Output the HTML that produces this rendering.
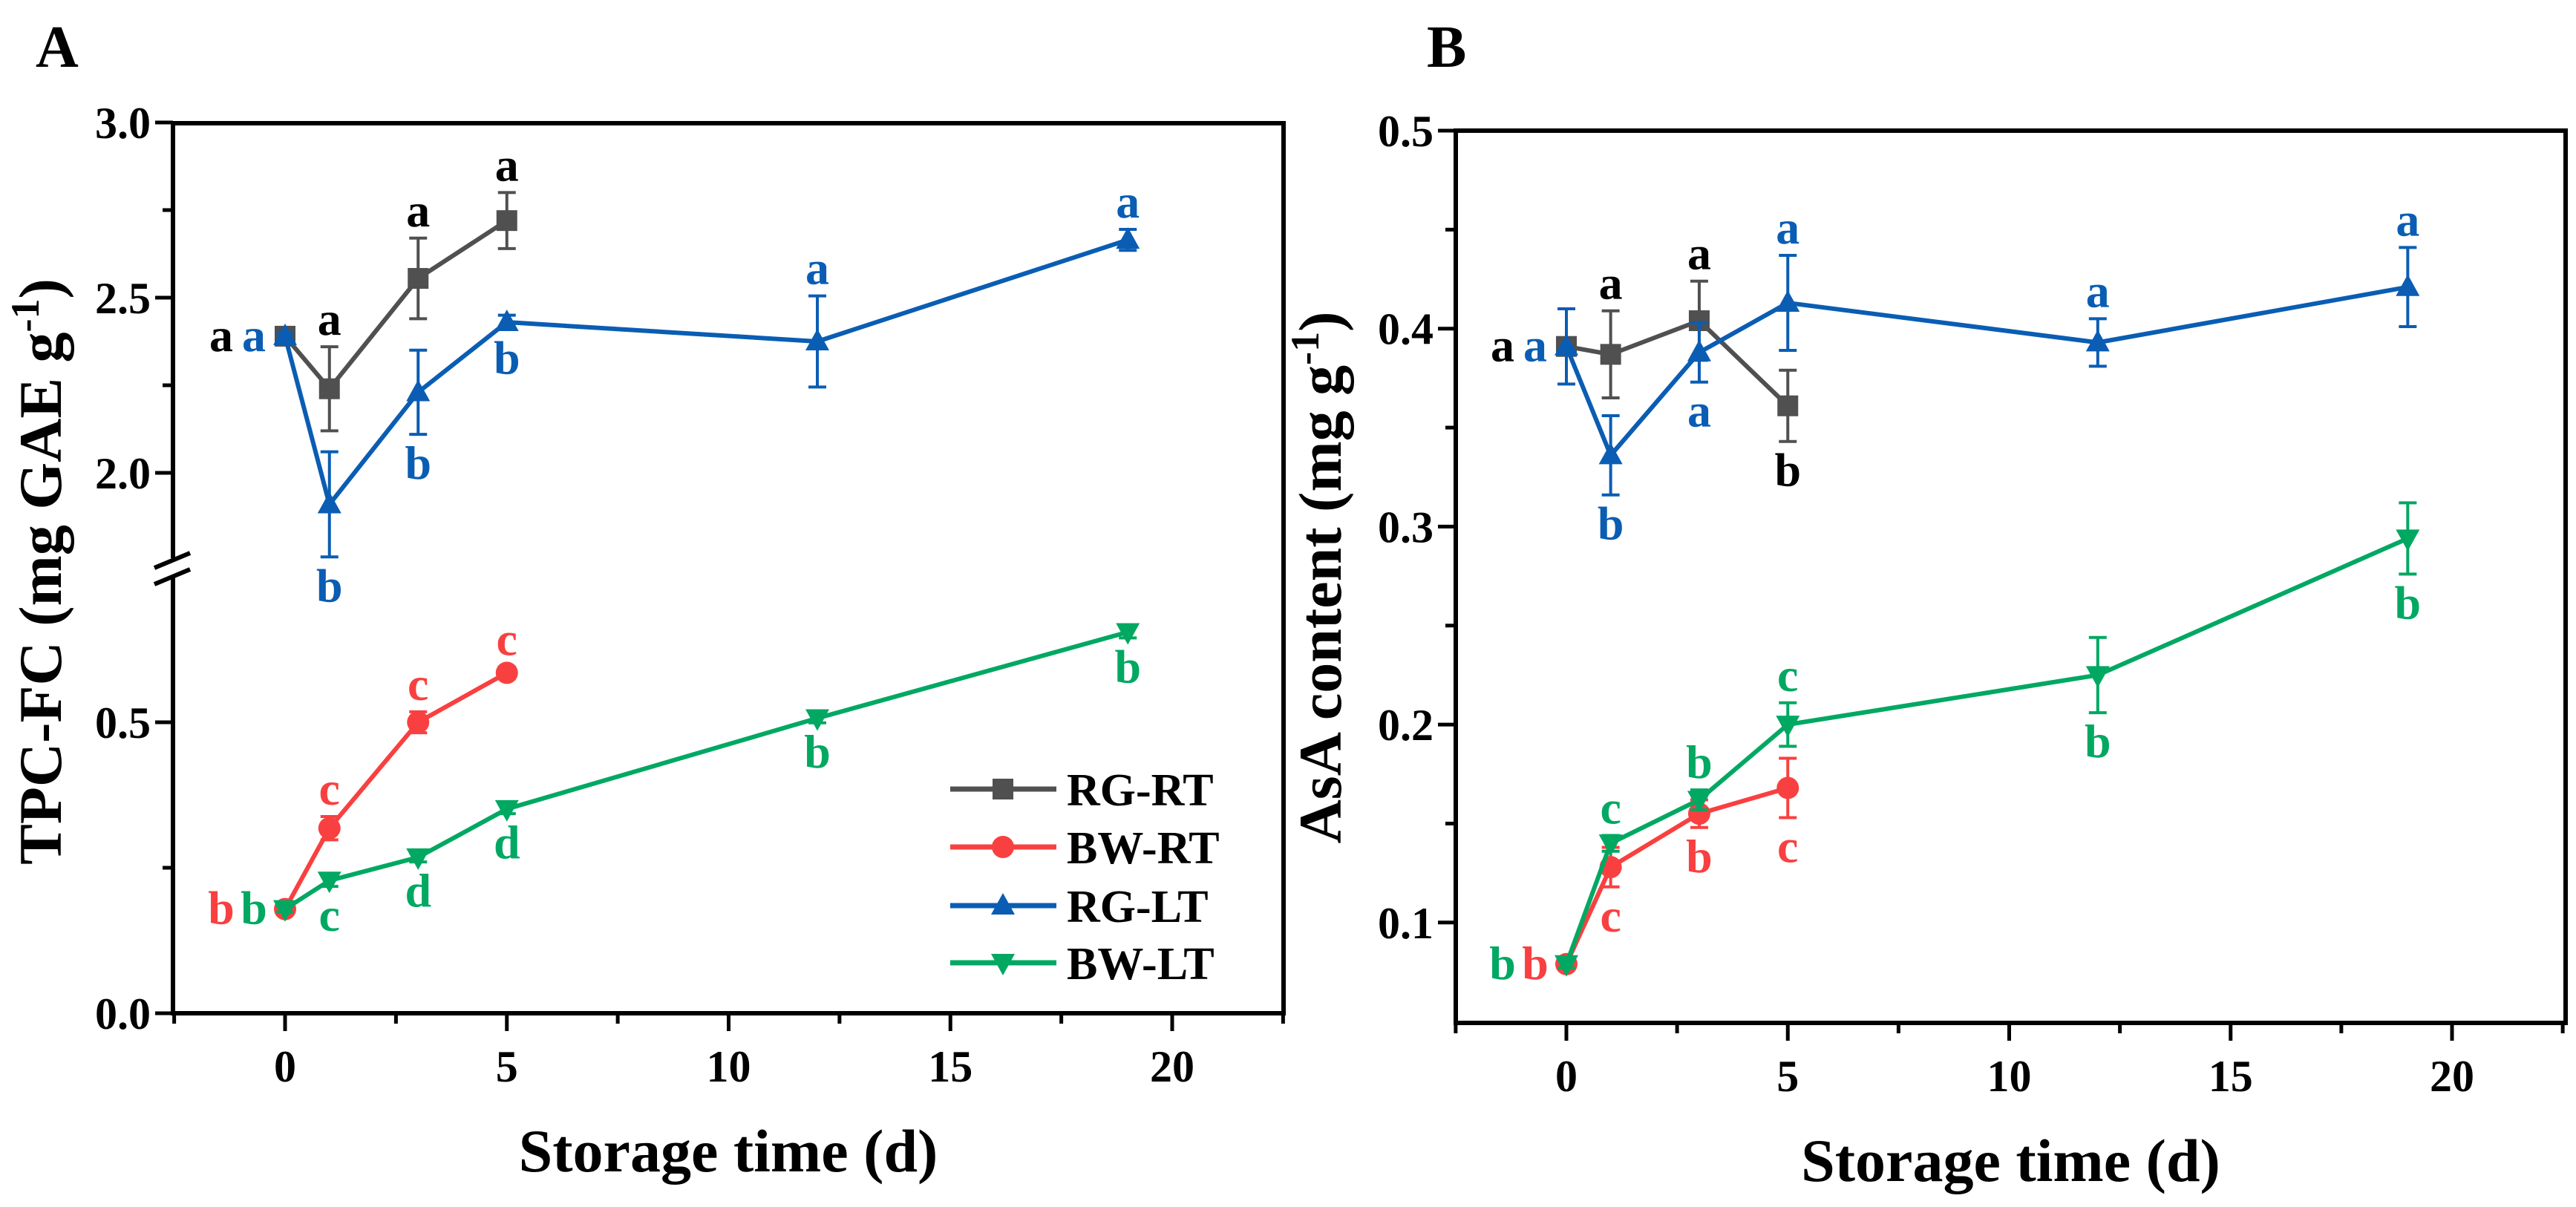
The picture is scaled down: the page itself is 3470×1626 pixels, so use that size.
<!DOCTYPE html>
<html><head><meta charset="utf-8"><style>
html,body{margin:0;padding:0;background:#fff;}
svg{display:block;font-family:"Liberation Serif",serif;font-weight:bold;}
</style></head><body>
<svg id="fig" width="3470" height="1626" viewBox="0 0 3470 1626"></svg>
<script>
const days=[0,1,3,5,12,19];
const seriesNames=['RG-RT','BW-RT','RG-LT','BW-LT'];
// Panel A: TPC-FC
const aRGRT=[2.39,2.24,2.555,2.72];
const aRGRTerr=[0.01,0.12,0.115,0.08];
const aBWRT=[0.179,0.318,0.50,0.585];
const aBWRTerr=[0.005,0.02,0.018,0.01];
const aRGLT=[2.39,1.91,2.23,2.43,2.375,2.665];
const aRGLTerr=[0.01,0.15,0.12,0.02,0.13,0.03];
const aBWLT=[0.179,0.228,0.268,0.351,0.507,0.655];
const aBWLTerr=[0.005,0.01,0.008,0.008,0.008,0.01];
const aLetRGRT=['a','a','a','a'];
const aLetBWRT=['b','c','c','c'];
const aLetRGLT=['a','b','b','b','a','a'];
const aLetBWLT=['b','c','d','d','b','b'];
// Panel B: AsA
const bRGRT=[0.391,0.387,0.404,0.361];
const bRGRTerr=[0.002,0.022,0.02,0.018];
const bBWRT=[0.079,0.128,0.155,0.168];
const bBWRTerr=[0.002,0.01,0.007,0.015];
const bRGLT=[0.391,0.336,0.388,0.413,0.393,0.421];
const bRGLTerr=[0.019,0.02,0.015,0.024,0.012,0.02];
const bBWLT=[0.079,0.14,0.162,0.20,0.225,0.294];
const bBWLTerr=[0.002,0.004,0.005,0.011,0.019,0.018];
const bLetRGRT=['a','a','a','b'];
const bLetBWRT=['b','c','b','c'];
const bLetRGLT=['a','b','a','a','a','a'];
const bLetBWLT=['b','c','b','c','b','b'];
const xTicks=[0,5,10,15,20];
const aYTicksUpper=[2.0,2.5,3.0];
const aYTicksLower=[0.0,0.5];
const bYTicks=[0.1,0.2,0.3,0.4,0.5];

const C={gray:'#505050',red:'#f94040',blue:'#0a5db3',green:'#00a862'};
const NS='http://www.w3.org/2000/svg';
const svg=document.getElementById('fig');
function mk(tag,attrs,parent,txt){const e=document.createElementNS(NS,tag);for(const k in attrs)e.setAttribute(k,attrs[k]);if(txt!==undefined)e.textContent=txt;(parent||svg).appendChild(e);return e;}

function xA(d){return 384+d*59.75;}
function yA(v){return v>=1.5? 637-(v-2.0)*472 : 1365-v*784;}
function xB(d){return 2110+d*59.65;}
function yB(v){return 176+(0.5-v)*2667;}

function marker(g,type,x,y,col){
  let m;
  if(type==='sq'){m=mk('rect',{x:x-14,y:y-14,width:28,height:28,fill:col},g);}
  else if(type==='ci'){m=mk('circle',{cx:x,cy:y,r:15,fill:col},g);}
  else if(type==='up'){m=mk('polygon',{points:`${x},${y-17} ${x-16},${y+12} ${x+16},${y+12}`,fill:col},g);}
  else {m=mk('polygon',{points:`${x},${y+17} ${x-16},${y-12} ${x+16},${y-12}`,fill:col},g);}
  
  
}
function series(panel,name,vals,errs,col,type,xf,yf){
  const g=mk('g',{},svg);
  
  
  const pts=vals.map((v,i)=>xf(days[i])+','+yf(v)).join(' ');
  const l=mk('polyline',{points:pts,fill:'none',stroke:col,'stroke-width':6,'stroke-linejoin':'round'},g);
  
  
  vals.forEach((v,i)=>{
    const x=xf(days[i]),y1=yf(v+errs[i]),y2=yf(v-errs[i]);
    const e=mk('path',{d:`M${x},${y1}V${y2}M${x-12},${y1}H${x+12}M${x-12},${y2}H${x+12}`,stroke:col,'stroke-width':4,fill:'none'},g);
    
    
  });
  vals.forEach((v,i)=>marker(g,type,xf(days[i]),yf(v),col));
}
function letters(panel,vals,errs,lets,pos,col,xf,yf){
  lets.forEach((t,i)=>{
    const x=xf(days[i]),v=vals[i];let tx=x,ty;const p=pos[i];
    if(p==='u'){ty=yf(v+errs[i])-16;}
    else if(p==='d'){ty=yf(v-errs[i])+60;}
    else if(p==='l'){tx=x-42;ty=yf(v)+20;}
    else {tx=x-86;ty=yf(v)+20;}
    const e=mk('text',{x:tx,y:ty,fill:col,'font-size':64,'text-anchor':'middle'},svg,t);
    
    
  });
}
function xAxis(panel,left,right,bottom,xf){
  const g=mk('g',{},svg);
  
  
  for(let d=-2.5;d<=22.5;d+=2.5){const x=xf(d);const major=xTicks.includes(d);
    mk('line',{x1:x,x2:x,y1:bottom,y2:bottom+(major?24:14),stroke:'#000','stroke-width':5},g);}
  xTicks.forEach(d=>{const t=mk('text',{x:xf(d),y:bottom+92,'font-size':60,'text-anchor':'middle'},g,d);
    });
  const tt=mk('text',{x:(left+right)/2,y:bottom+213,'font-size':82,'text-anchor':'middle'},g,'Storage time (d)');
  
  
}

// ---------- Panel A ----------
const AL=233,AR=1729,AT=166,AB=1365;
let pa=mk('text',{x:48,y:90,'font-size':80},svg,'A');

let fr=mk('path',{d:`M${AL},752V${AT}H${AR}V${AB}H${AL}V777`,fill:'none',stroke:'#000','stroke-width':6},svg);

let br=mk('path',{d:`M208,765L256,745M208,787L256,767`,stroke:'#000','stroke-width':6},svg);

[2.0,2.25,2.5,2.75,3.0,0,0.25,0.5].forEach(v=>{const y=yA(v);const maj=[2.0,2.5,3.0,0,0.5].includes(v);
  mk('line',{x1:AL,x2:AL-(maj?24:14),y1:y,y2:y,stroke:'#000','stroke-width':5},svg);});
aYTicksUpper.concat(aYTicksLower).forEach(v=>{const t=mk('text',{x:AL-30,y:yA(v)+21,'font-size':60,'text-anchor':'end'},svg,v.toFixed(1));
  });
let yt=mk('text',{x:0,y:0,'font-size':82,'text-anchor':'middle',transform:'translate(82,770) rotate(-90)'},svg);

yt.innerHTML='TPC-FC (mg GAE g<tspan dy="-30" font-size="54">-1</tspan><tspan dy="30">)</tspan>';
xAxis('panel-a',AL,AR,AB,xA);
series('panel-a','RG-RT',aRGRT,aRGRTerr,C.gray,'sq',xA,yA);
series('panel-a','BW-RT',aBWRT,aBWRTerr,C.red,'ci',xA,yA);
series('panel-a','RG-LT',aRGLT,aRGLTerr,C.blue,'up',xA,yA);
series('panel-a','BW-LT',aBWLT,aBWLTerr,C.green,'dn',xA,yA);
letters('panel-a',aRGRT,aRGRTerr,aLetRGRT,['ll','u','u','u'],'#000',xA,yA);
letters('panel-a',aBWRT,aBWRTerr,aLetBWRT,['ll','u','u','u'],C.red,xA,yA);
letters('panel-a',aRGLT,aRGLTerr,aLetRGLT,['l','d','d','d','u','u'],C.blue,xA,yA);
letters('panel-a',aBWLT,aBWLTerr,aLetBWLT,['l','d','d','d','d','d'],C.green,xA,yA);
const lg=mk('g',{},svg);

const legCols=[C.gray,C.red,C.blue,C.green],legTypes=['sq','ci','up','dn'],legY=[1063,1141,1220,1297];
seriesNames.forEach((n,i)=>{
  const e=mk('g',{},lg);
  
  
  mk('line',{x1:1280,x2:1423,y1:legY[i],y2:legY[i],stroke:legCols[i],'stroke-width':7},e);
  marker(e,legTypes[i],1351,legY[i],legCols[i]);
  mk('text',{x:1437,y:legY[i]+22,'font-size':62},e,n);
});

// ---------- Panel B ----------
const BL=1961,BR=3456,BT=176,BB=1378;
let pb=mk('text',{x:1922,y:90,'font-size':80},svg,'B');

let fb=mk('rect',{x:BL,y:BT,width:BR-BL,height:BB-BT,fill:'none',stroke:'#000','stroke-width':6},svg);

for(let v=0.1;v<=0.501;v+=0.05){const y=yB(v);const maj=Math.abs(v*10-Math.round(v*10))<0.01;
  mk('line',{x1:BL,x2:BL-(maj?24:14),y1:y,y2:y,stroke:'#000','stroke-width':5},svg);}
bYTicks.forEach(v=>{const t=mk('text',{x:BL-30,y:yB(v)+21,'font-size':60,'text-anchor':'end'},svg,v.toFixed(1));
  });
let yb=mk('text',{x:0,y:0,'font-size':82,'text-anchor':'middle',transform:'translate(1806,778) rotate(-90)'},svg);

yb.innerHTML='AsA content (mg g<tspan dy="-30" font-size="54">-1</tspan><tspan dy="30">)</tspan>';
xAxis('panel-b',BL,BR,BB,xB);
series('panel-b','RG-RT',bRGRT,bRGRTerr,C.gray,'sq',xB,yB);
series('panel-b','BW-RT',bBWRT,bBWRTerr,C.red,'ci',xB,yB);
series('panel-b','RG-LT',bRGLT,bRGLTerr,C.blue,'up',xB,yB);
series('panel-b','BW-LT',bBWLT,bBWLTerr,C.green,'dn',xB,yB);
letters('panel-b',bRGRT,bRGRTerr,bLetRGRT,['ll','u','u','d'],'#000',xB,yB);
letters('panel-b',bBWRT,bBWRTerr,bLetBWRT,['l','d','d','d'],C.red,xB,yB);
letters('panel-b',bRGLT,bRGLTerr,bLetRGLT,['l','d','d','u','u','u'],C.blue,xB,yB);
letters('panel-b',bBWLT,bBWLTerr,bLetBWLT,['ll','u','u','u','d','d'],C.green,xB,yB);
</script>
</body></html>
